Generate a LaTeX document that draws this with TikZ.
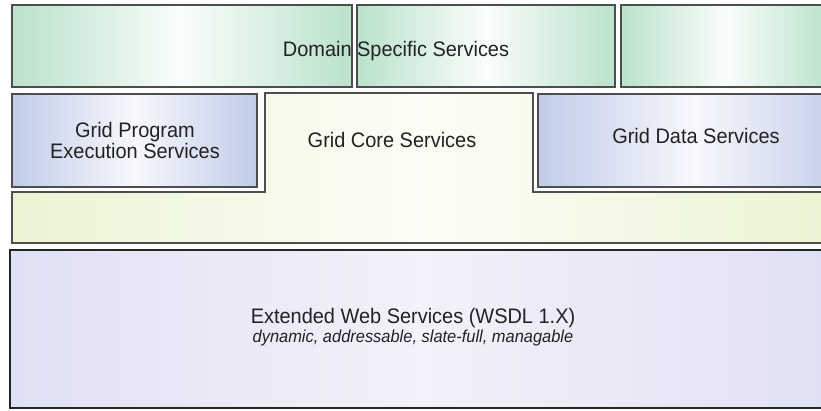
\documentclass[tikz,border=0pt]{standalone}
\usepackage{fontspec}
\setmainfont[FakeStretch=0.95]{Liberation Sans}
\definecolor{grn}{RGB}{186,226,203}
\definecolor{grnmid}{RGB}{250,253,251}
\definecolor{blu}{RGB}{192,204,232}
\definecolor{blumid}{RGB}{248,248,253}
\definecolor{core}{RGB}{234,244,212}
\definecolor{coremid}{RGB}{252,253,246}
\definecolor{lav}{RGB}{224,224,244}
\definecolor{lavmid}{RGB}{242,242,251}
\definecolor{edge}{RGB}{78,78,78}
\definecolor{ink}{RGB}{34,34,34}
\begin{document}
\begin{tikzpicture}[x=1pt,y=-1pt,
  frame/.style={draw=edge, line width=1.4pt},
  greenbox/.style={frame, left color=grn, right color=grn, middle color=grnmid},
  bluebox/.style={frame, left color=blu, right color=blu, middle color=blumid},
  corebox/.style={frame, left color=core, right color=core, middle color=coremid},
  basebox/.style={draw=black!85, line width=2pt, left color=lav, right color=lav, middle color=lavmid},
  lbl/.style={font=\fontsize{21}{21}\selectfont, text=ink, inner sep=0pt, anchor=base},
  sublbl/.style={font=\fontsize{17.3}{20}\selectfont\itshape, text=ink, inner sep=0pt, anchor=base}]
\useasboundingbox (0,0) rectangle (821,410);
\clip (0,0) rectangle (821,410);

% top row: domain specific services
\path[greenbox] (12,5) rectangle (352,87);
\path[greenbox] (357,5) rectangle (615,87);
\path[greenbox] (621,5) rectangle (830,87);

% grid core services (stepped outline)
\path[corebox] (265,93) -- (533,93) -- (533,192) -- (830,192) -- (830,243)
  -- (12,243) -- (12,192) -- (265,192) -- cycle;

% program execution and data services
\path[bluebox] (12,94) rectangle (257,187);
\path[bluebox] (538,94) rectangle (850,187);

% extended web services base layer
\path[basebox] (10,250) rectangle (830,408);

% labels (the two-line label is placed by its last baseline)
\node[lbl] (dss) at (396,56) {Domain Specific Services};
\node[lbl, align=center] (gpes) at (135,158) {Grid Program\\Execution Services};
\node[lbl] (gcs) at (392,147) {Grid Core Services};
\node[lbl] (gds) at (696,143) {Grid Data Services};
\node[lbl] (ews) at (413,323) {Extended Web Services (WSDL 1.X)};
\node[sublbl] (ewsnote) at (413,342) {dynamic, addressable, slate-full, managable};
\end{tikzpicture}
\end{document}
